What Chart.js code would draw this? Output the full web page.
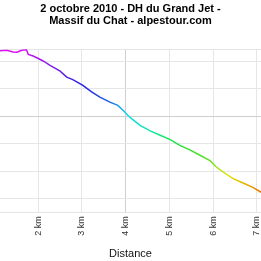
<!DOCTYPE html>
<html>
<head>
<meta charset="utf-8">
<script src="https://cdn.jsdelivr.net/npm/chart.js@4"></script>
<style>
  body { margin: 0; background: #fff; }
  #wrap { width: 261px; height: 261px; position: relative; }
</style>
</head>
<body>
<div id="wrap"><canvas id="profile"></canvas></div>
<script>
// distance (km) and altitude (m)
const distances = [1.12, 1.28, 1.42, 1.51, 1.62, 1.73, 1.77, 1.88, 2.0, 2.11, 2.27, 2.5, 2.65, 2.79,
  3.02, 3.22, 3.41, 3.64, 3.82, 3.94, 4.1, 4.33, 4.56, 4.79, 5.02, 5.24, 5.47, 5.7, 5.93, 6.07,
  6.23, 6.46, 6.69, 6.92, 7.1];
const altitudes = [1239, 1241, 1235, 1234, 1241, 1243, 1226, 1220, 1211, 1202, 1186, 1165, 1143, 1134,
  1113, 1089, 1070, 1052, 1040, 1022, 996, 967, 947, 931, 915, 894, 878, 858, 839, 816,
  797, 773, 757, 740, 723];
const xTicks = [2, 3, 4, 5, 6, 7];
const yTicks = [700, 800, 900, 1000, 1100, 1200];
const xRange = [1.123, 7.098];
const yRange = [650, 1245];

const titleLines = ['2 octobre 2010 - DH du Grand Jet -', 'Massif du Chat - alpestour.com'];

const points = distances.map((d, i) => ({ x: d, y: altitudes[i] }));

// colour runs magenta -> blue -> cyan -> green -> yellow -> orange along the track
function lineGradient(context) {
  const chart = context.chart;
  const area = chart.chartArea;
  if (!area) return '#00c000';
  const g = chart.ctx.createLinearGradient(area.left, 0, area.right, 0);
  g.addColorStop(0.0, '#e010f0');
  g.addColorStop(0.1, '#d010f0');
  g.addColorStop(0.2, '#8020e8');
  g.addColorStop(0.32, '#2020e8');
  g.addColorStop(0.42, '#2060f0');
  g.addColorStop(0.49, '#10d8e8');
  g.addColorStop(0.58, '#10e8a0');
  g.addColorStop(0.68, '#20e040');
  g.addColorStop(0.8, '#60e020');
  g.addColorStop(0.87, '#e0e000');
  g.addColorStop(0.94, '#e8b000');
  g.addColorStop(1.0, '#e87000');
  return g;
}

const chart = new Chart(document.getElementById('profile'), {
  type: 'line',
  data: {
    datasets: [{
      data: points,
      borderColor: lineGradient,
      borderWidth: 1.5,
      pointRadius: 0,
      tension: 0,
      fill: false
    }]
  },
  options: {
    responsive: true,
    maintainAspectRatio: false,
    animation: false,
    layout: { padding: 0 },
    plugins: {
      legend: { display: false },
      tooltip: { enabled: false },
      title: {
        display: true,
        text: titleLines,
        color: '#000',
        font: { family: 'Arial, Liberation Sans', size: 11, weight: 'bold', lineHeight: 1.1 },
        padding: { top: 3, bottom: 22 }
      }
    },
    scales: {
      x: {
        type: 'linear',
        min: xRange[0],
        max: xRange[1],
        afterBuildTicks: axis => { axis.ticks = xTicks.map(v => ({ value: v })); },
        // let the plot run to both canvas edges
        afterFit: axis => { axis.paddingLeft = 0; axis.paddingRight = 0; },
        grid: {
          color: ctx => (ctx.tick && ctx.tick.value === 4 ? '#cfcfcf' : '#e6e6e6'),
          drawTicks: false
        },
        border: { display: false },
        ticks: {
          minRotation: 90,
          maxRotation: 90,
          padding: 4,
          color: '#333',
          font: { family: 'Arial, Liberation Sans', size: 9 },
          callback: v => v + ' km'
        },
        title: {
          display: true,
          text: 'Distance',
          color: '#111',
          font: { family: 'Arial, Liberation Sans', size: 11 },
          padding: { top: 8, bottom: 0 }
        }
      },
      y: {
        min: yRange[0],
        max: yRange[1],
        afterBuildTicks: axis => {
          axis.ticks = [yRange[0]].concat(yTicks, [yRange[1]]).map(v => ({ value: v }));
        },
        grid: {
          color: ctx => (ctx.tick && ctx.tick.value === 1000 ? '#cfcfcf' : '#e6e6e6'),
          drawTicks: false
        },
        border: { display: false },
        ticks: { display: false }
      }
    }
  }
});
</script>
</body>
</html>
